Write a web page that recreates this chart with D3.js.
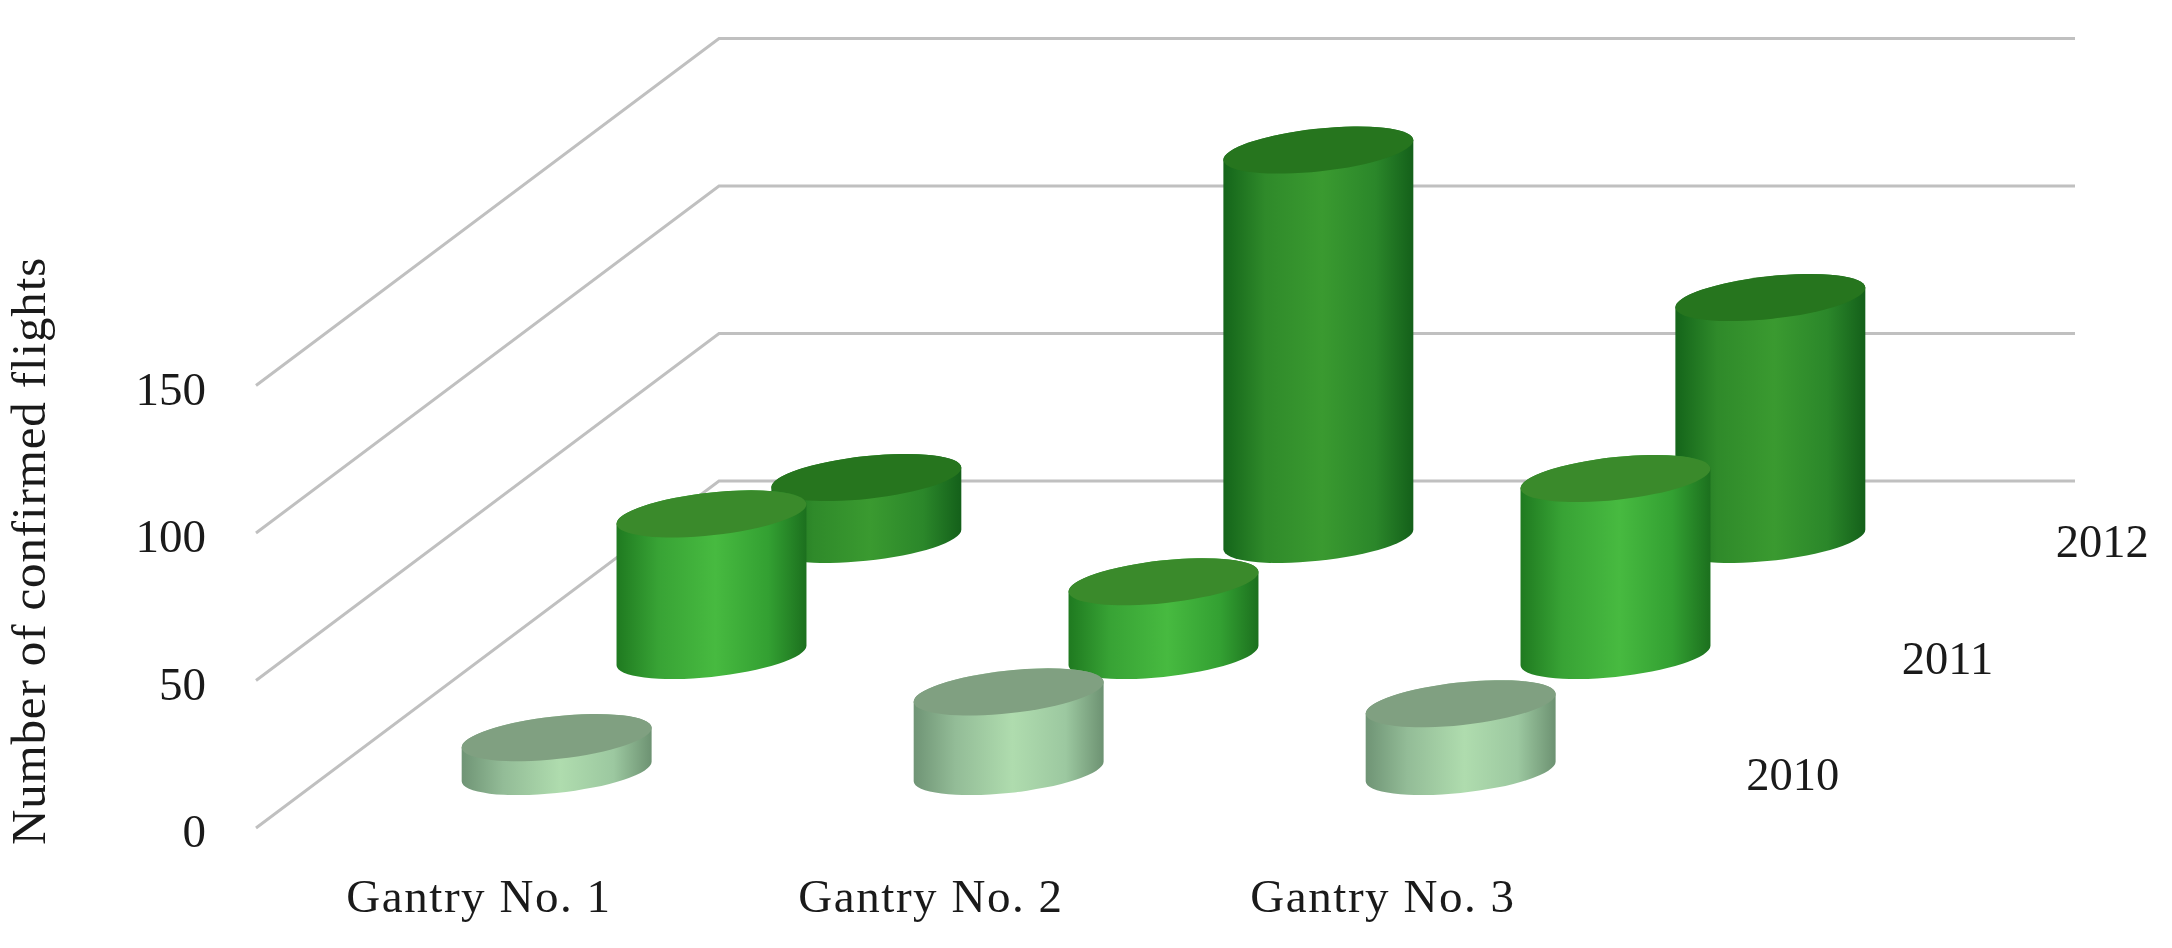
<!DOCTYPE html>
<html>
<head>
<meta charset="utf-8">
<script src="https://d3js.org/d3.v7.min.js"></script>
<style>
  html, body { margin: 0; background: #fff; }
  svg { display: block; filter: blur(0.6px); }
  text { font-family: "Liberation Serif", serif; fill: #1a1a1a; }
</style>
</head>
<body>
<svg id="chart" width="2172" height="948"></svg>
<script>
// data
const gantries = ["Gantry No. 1", "Gantry No. 2", "Gantry No. 3"];
const years = ["2012", "2011", "2010"]; // back to front
const flights2010 = [11.5, 27, 23];
const flights2011 = [48, 25, 60];
const flights2012 = [21, 132, 82];
const valueTicks = [0, 50, 100, 150];

const seriesByYear = { "2010": flights2010, "2011": flights2011, "2012": flights2012 };

const topColor = { "2010": "#80a081", "2011": "#3a8a2b", "2012": "#26751e" };
const sideStops = {
  "2010": ["#6f9475", "#93bc97", "#afdcae", "#9cc8a0", "#6d9272"],
  "2011": ["#1f7a20", "#38a335", "#47ba40", "#33a032", "#1c701e"],
  "2012": ["#14651a", "#2f8a2a", "#3a9a30", "#2b872a", "#14601a"]
};

const svg = d3.select("#chart");

// floor: front left corner, and how far the back wall is shifted
const originX = 256, originY = 828;
const depthX = 463, depthY = 347;
const floorW = 1356;
const barDrop = 1; // bars sit a hair below the floor plane
const barShift = -2;

const x = d3.scaleBand().domain(gantries).range([0, floorW]);
const z = d3.scalePoint().domain(["2010", "2011", "2012"]).range([0, 1]).padding(0.495);
const h = d3.scaleLinear().domain([0, 50]).range([0, 147.5]);

// project to the page
const px = (g, d) => originX + g + depthX * d;
const py = (d, v) => originY - depthY * d - h(v);

// walls
const grid = svg.append("g").attr("class", "grid");
grid.selectAll("path")
  .data(valueTicks)
  .join("path")
  .attr("d", v => d3.line()([
    [px(0, 0), py(0, v)],
    [px(0, 1), py(1, v)],
    [px(floorW, 1), py(1, v)]
  ]))
  .attr("fill", "none")
  .attr("stroke", "#c0c0c0")
  .attr("stroke-width", 3);

// gradients for the cylinder sides
const defs = svg.append("defs");
years.forEach(y => {
  const grad = defs.append("linearGradient").attr("id", "side" + y);
  grad.selectAll("stop")
    .data(sideStops[y])
    .join("stop")
    .attr("offset", (d, i) => [0, 0.22, 0.52, 0.8, 1][i])
    .attr("stop-color", d => d);
});

// tilted ellipse of the cylinders
const rx = 95.5, ry = 21.3, tilt = -6.2;
const rad = tilt * Math.PI / 180;
const halfW = Math.sqrt(rx * rx * Math.cos(rad) ** 2 + ry * ry * Math.sin(rad) ** 2);
const tanY = (rx * rx - ry * ry) * Math.sin(rad) * Math.cos(rad) / halfW; // y of the right tangent

function sidePath(cx, baseY, topY) {
  return `M${cx - halfW},${topY - tanY}` +
    `L${cx - halfW},${baseY - tanY}` +
    `A${rx},${ry} ${tilt} 0 0 ${cx + halfW},${baseY + tanY}` +
    `L${cx + halfW},${topY + tanY}` +
    `A${rx},${ry} ${tilt} 0 0 ${cx - halfW},${topY - tanY}Z`;
}

const bars = years.flatMap(y => gantries.map((g, i) => ({ year: y, gantry: g, value: seriesByYear[y][i] })));

const cyl = svg.append("g").attr("class", "bars")
  .selectAll("g")
  .data(bars)
  .join("g")
  .attr("class", "cylinder");

cyl.append("path")
  .attr("d", d => {
    const cx = px(x(d.gantry) + x.bandwidth() / 2, z(d.year)) + barShift;
    return sidePath(cx, py(z(d.year), 0) + barDrop, py(z(d.year), d.value) + barDrop);
  })
  .attr("fill", d => `url(#side${d.year})`);

cyl.append("ellipse")
  .attr("rx", rx)
  .attr("ry", ry)
  .attr("transform", d => {
    const cx = px(x(d.gantry) + x.bandwidth() / 2, z(d.year)) + barShift;
    return `translate(${cx},${py(z(d.year), d.value) + barDrop}) rotate(${tilt})`;
  })
  .attr("fill", d => topColor[d.year]);

// value labels
svg.append("g").selectAll("text")
  .data(valueTicks)
  .join("text")
  .attr("x", 206)
  .attr("y", v => py(0, v) + 19)
  .attr("text-anchor", "end")
  .attr("font-size", 47)
  .text(d => d);

// gantry labels
svg.append("g").selectAll("text")
  .data(gantries)
  .join("text")
  .attr("x", d => px(x(d) + x.bandwidth() / 2, 0) - 3)
  .attr("y", 912)
  .attr("text-anchor", "middle")
  .attr("font-size", 47)
  .attr("letter-spacing", 1.55)
  .text(d => d);

// year labels
svg.append("g").selectAll("text")
  .data(["2010", "2011", "2012"])
  .join("text")
  .attr("x", d => px(floorW, z(d)) + 104)
  .attr("y", d => py(z(d), 0) + 19)
  .attr("text-anchor", "middle")
  .attr("font-size", 46.5)
  .text(d => d);

// y title
svg.append("text")
  .attr("transform", "translate(45,551) rotate(-90)")
  .attr("text-anchor", "middle")
  .attr("font-size", 49)
  .attr("letter-spacing", 0.87)
  .text("Number of confirmed flights");
</script>
</body>
</html>
